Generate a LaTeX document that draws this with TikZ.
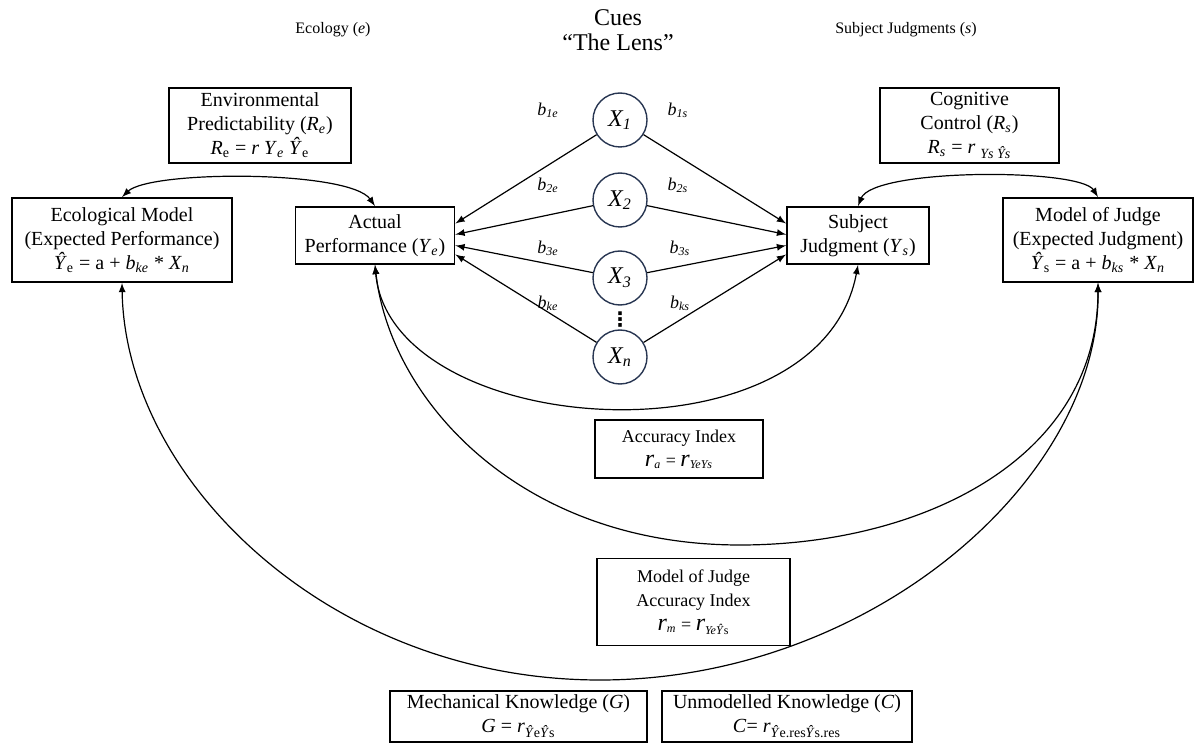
\documentclass[tikz,border=0pt]{standalone}
\usepackage{fontspec}
\setmainfont{Liberation Serif}
\newfontfamily\dejavu{DejaVu Sans}
\usepackage{tikz}
\usetikzlibrary{arrows}
\definecolor{cueblue}{RGB}{40,54,82}
\newcommand{\lsub}[1]{\textsubscript{#1}}
\tikzset{box/.style = {draw, line width = 0.9pt, align = center, inner sep = 2, font = \fontsize{10}{12}\selectfont}}
\tikzset{smallbox/.style = {box, font = \fontsize{9}{12}\selectfont}}
\tikzset{head/.style = {font = \fontsize{8}{9}\selectfont}}
\tikzset{cue/.style = {draw = cueblue, circle, line width = 0.7pt, minimum size = 27, inner sep = 0, font = \fontsize{12}{12}\selectfont\itshape}}
\tikzset{wt/.style = {inner sep = 1, font = \fontsize{9}{9}\selectfont\itshape}}
\tikzset{link/.style = {line width = 0.6pt, -latex}}
\tikzset{arc/.style = {line width = 0.6pt, latex-latex}}

\begin{document}
\begin{tikzpicture}[x = 0.5pt, y = -0.5pt]
  \useasboundingbox (0, 0) rectangle (1195, 743);
  % headings
  \node [head] (ecol) at (333, 30) {Ecology (\textit{e})};
  \node [align = center, font = \fontsize{12}{12.5}\selectfont] (lens) at (618, 30) {Cues\\“The Lens”};
  \node [head] (subj) at (906, 30) {Subject Judgments (\textit{s})};
  % boxes
  \node [box, minimum width = 91, minimum height = 37.5] (envp) at (260, 125.5) {Environmental\\Predictability (\textit{R}\lsub{\textit{e}})\\\textit{R}\lsub{e} = \textit{r Y}\lsub{\textit{e}} \textit{Ŷ}\lsub{e}};
  \node [box, minimum width = 89.5, minimum height = 37.5] (cogc) at (969.5, 125.5) {Cognitive\\Control (\textit{R}\lsub{\textit{s}})\\\textit{R}\lsub{\textit{s}} = \textit{r} \lsub{\textit{Ys Ŷs}}};
  \node [box, minimum width = 110, minimum height = 42] (em) at (122, 240) {Ecological Model\\(Expected Performance)\\\textit{Ŷ}\lsub{e} = a + \textit{b}\lsub{\textit{ke}} * \textit{X}\lsub{\textit{n}}};
  \node [box, minimum width = 79.5, minimum height = 28.5] (ap) at (375, 235.5) {Actual\\Performance (\textit{Y}\lsub{\textit{e}})};
  \node [box, minimum width = 71, minimum height = 28.5] (sj) at (858, 235.5) {Subject\\Judgment (\textit{Y}\lsub{\textit{s}})};
  \node [box, minimum width = 95, minimum height = 42] (moj) at (1098, 240) {Model of Judge\\(Expected Judgment)\\\textit{Ŷ}\lsub{s} = a + \textit{b}\lsub{\textit{ks}} * \textit{X}\lsub{\textit{n}}};
  \node [smallbox, minimum width = 84, minimum height = 29] (acc) at (679, 449) {Accuracy Index\\{\large\textit{r}}\lsub{\textit{a}} = {\large\textit{r}}\lsub{\textit{YeYs}}};
  \node [smallbox, minimum width = 96.5, minimum height = 43.5] (mjacc) at (693.5, 602) {Model of Judge\\Accuracy Index\\{\large\textit{r}}\lsub{\textit{m}} = {\large\textit{r}}\lsub{\textit{YeŶ}s}};
  \node [box, minimum width = 128.5, anchor = north] (mech) at (518.5, 690) {Mechanical Knowledge (\textit{G})\\\textit{G} = \textit{r}\lsub{\textit{Ŷ}e\textit{Ŷ}s}};
  \node [box, minimum width = 125, anchor = north] (unmod) at (787, 690) {Unmodelled Knowledge (\textit{C})\\\textit{C}= \textit{r}\lsub{\textit{Ŷ}e.res\textit{Ŷ}s.res}};
  % the lens
  \node [cue] (x1) at (620, 120) {X\lsub{1}};
  \node [cue] (x2) at (620, 200) {X\lsub{2}};
  \node [cue] (x3) at (620, 278) {X\lsub{3}};
  \node [cue] (xn) at (620, 357) {X\lsub{n}};
  \node [inner sep = 0, font = \dejavu\bfseries\fontsize{10}{10}\selectfont] (dots) at (620, 320) {⋮};
  \node [wt] (b1e) at (548, 110) {b\lsub{1e}};
  \node [wt] (b2e) at (548, 185) {b\lsub{2e}};
  \node [wt] (b3e) at (548, 248) {b\lsub{3e}};
  \node [wt] (bke) at (548, 303) {b\lsub{ke}};
  \node [wt] (b1s) at (678, 110) {b\lsub{1s}};
  \node [wt] (b2s) at (678, 185) {b\lsub{2s}};
  \node [wt] (b3s) at (680, 248) {b\lsub{3s}};
  \node [wt] (bks) at (680, 303) {b\lsub{ks}};
  \draw [link] (x1) -- ([yshift = 6pt] ap.east);
  \draw [link] (x2) -- ([yshift = 0.5pt] ap.east);
  \draw [link] (x3) -- ([yshift = -5pt] ap.east);
  \draw [link] (xn) -- ([yshift = -9.5pt] ap.east);
  \draw [link] (x1) -- ([yshift = 6pt] sj.west);
  \draw [link] (x2) -- ([yshift = 0.5pt] sj.west);
  \draw [link] (x3) -- ([yshift = -5pt] sj.west);
  \draw [link] (xn) -- ([yshift = -9.5pt] sj.west);
  % correlations
  \draw [arc] (em.north) .. controls (150, 170) and (350, 170) .. (ap.north);
  \draw [arc] (sj.north) .. controls (873, 168) and (1080, 168) .. (moj.north);
  \draw [arc] (ap.south) .. controls (390, 440) and (820, 470) .. (sj.south);
  \draw [arc] (ap.south) .. controls (390, 400) and (520, 545) .. (740, 545) .. controls (920, 545) and (1098, 460) .. (moj.south);
  \draw [arc] (em.south) .. controls (125, 480) and (330, 680) .. (600, 680) .. controls (870, 680) and (1100, 480) .. (moj.south);
\end{tikzpicture}
\end{document}
